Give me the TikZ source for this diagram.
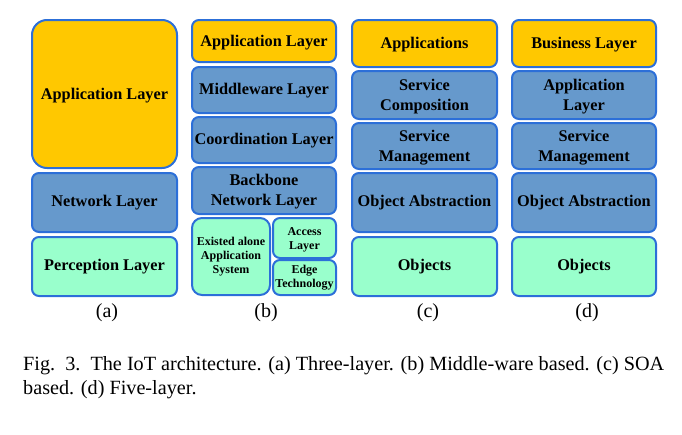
\documentclass[tikz,border=0pt]{standalone}
\usepackage{fontspec}
\setmainfont{Liberation Serif}
\definecolor{edgeblue}{HTML}{2C6FD8}
\definecolor{appor}{HTML}{FFC800}
\definecolor{midblue}{HTML}{6699CC}
\definecolor{mint}{HTML}{99FFCC}
\begin{document}
\begin{tikzpicture}[x=1pt,y=-1pt,
  layer/.style={draw=edgeblue,line width=2pt,rounded corners=7pt},
  orbox/.style={layer,fill=appor},
  bluebox/.style={layer,fill=midblue},
  greenbox/.style={layer,fill=mint},
  lbl/.style={font=\rmfamily\bfseries\fontsize{16.3}{20}\selectfont,align=center,inner sep=0pt},
  small/.style={font=\rmfamily\bfseries\fontsize{12}{14}\selectfont,align=center,inner sep=0pt},
  sub/.style={font=\rmfamily\fontsize{20}{24}\selectfont},
  captext/.style={font=\rmfamily\fontsize{20.2}{24}\selectfont,align=left,anchor=north west,inner sep=0pt}]
\useasboundingbox (0,0) rectangle (682,434);
% (a)
\draw[orbox,rounded corners=15pt] (32,20) rectangle (177,168);
\node[lbl] (a1) at (104.5,96) {Application Layer};
\draw[bluebox] (32,173) rectangle (177,232);
\node[lbl] (a2) at (104.5,203) {Network Layer};
\draw[greenbox] (32,237) rectangle (177,296);
\node[lbl] (a3) at (104.5,267) {Perception Layer};
% (b)
\draw[orbox] (192,20) rectangle (336,62);
\node[lbl] (b1) at (264,42.5) {Application Layer};
\draw[bluebox] (192,67) rectangle (336,113);
\node[lbl] (b2) at (264,91) {Middleware Layer};
\draw[bluebox] (192,117) rectangle (336,163);
\node[lbl] (b3) at (264,141) {Coordination Layer};
\draw[bluebox] (192,167) rectangle (336,214);
\node[lbl] (b4) at (264,192) {Backbone\\Network Layer};
\draw[greenbox,rounded corners=10pt] (192,218) rectangle (270,295);
\node[small] (b5) at (231,257) {Existed alone\\Application\\System};
\draw[greenbox] (273,218) rectangle (336,258);
\node[small] (b6) at (304.5,240) {Access\\Layer};
\draw[greenbox] (273,260) rectangle (336,295);
\node[small] (b7) at (304.5,277.5) {Edge\\Technology};
% (c)
\draw[orbox] (352,20) rectangle (497,67);
\node[lbl] (c1) at (424.5,45) {Applications};
\draw[bluebox] (352,71) rectangle (497,119);
\node[lbl] (c2) at (424.5,97) {Service\\Composition};
\draw[bluebox] (352,123) rectangle (497,169);
\node[lbl] (c3) at (424.5,147.5) {Service\\Management};
\draw[bluebox] (352,173) rectangle (497,232);
\node[lbl] (c4) at (424.5,203) {Object Abstraction};
\draw[greenbox] (352,237) rectangle (497,296);
\node[lbl] (c5) at (424.5,267) {Objects};
% (d)
\draw[orbox] (512,20) rectangle (656,67);
\node[lbl] (d1) at (584,45) {Business Layer};
\draw[bluebox] (512,71) rectangle (656,119);
\node[lbl] (d2) at (584,97) {Application\\Layer};
\draw[bluebox] (512,123) rectangle (656,169);
\node[lbl] (d3) at (584,147.5) {Service\\Management};
\draw[bluebox] (512,173) rectangle (656,232);
\node[lbl] (d4) at (584,203) {Object Abstraction};
\draw[greenbox] (512,237) rectangle (656,296);
\node[lbl] (d5) at (584,267) {Objects};
% sub labels
\node[sub] (la) at (107,313) {(a)};
\node[sub] (lb) at (266,313) {(b)};
\node[sub] (lc) at (428,313) {(c)};
\node[sub] (ld) at (587,313) {(d)};
% caption
\node[captext] (capt) at (23,356) {Fig.~~3.~~The IoT architecture. (a) Three-layer. (b) Middle-ware based. (c) SOA\\based. (d) Five-layer.};
\end{tikzpicture}
\end{document}
